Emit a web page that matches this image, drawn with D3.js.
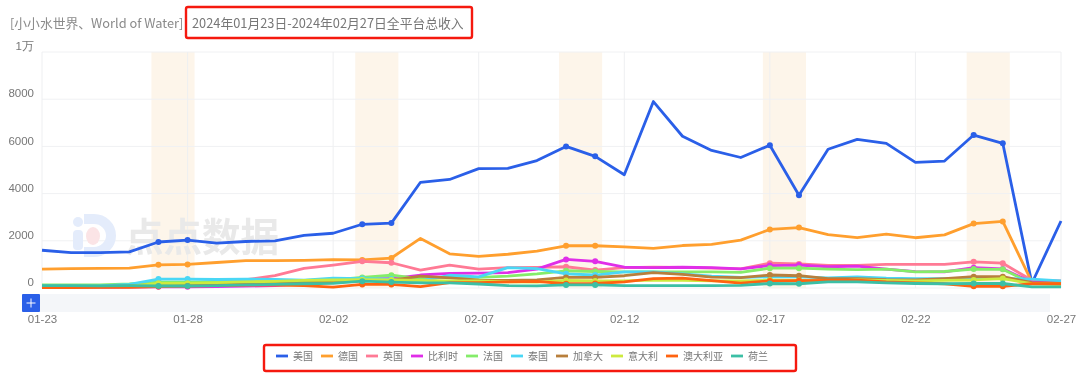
<!DOCTYPE html>
<html><head><meta charset="utf-8">
<script src="https://cdnjs.cloudflare.com/ajax/libs/d3/7.8.5/d3.min.js"></script>
<style>
html,body{margin:0;padding:0;background:#fff;overflow:hidden}
svg{display:block;font-family:"Noto Sans CJK SC","Noto Sans",sans-serif;filter:blur(0.4px)}
</style></head><body><svg id="c" width="1080" height="379"></svg>
<script>
const dates=["01-23","01-24","01-25","01-26","01-27","01-28","01-29","01-30","01-31","02-01","02-02","02-03","02-04","02-05","02-06","02-07","02-08","02-09","02-10","02-11","02-12","02-13","02-14","02-15","02-16","02-17","02-18","02-19","02-20","02-21","02-22","02-23","02-24","02-25","02-26","02-27"];
const xTicks=["01-23","01-28","02-02","02-07","02-12","02-17","02-22","02-27"];
const yTicks=[0,2000,4000,6000,8000,10000];
const weekends=[["01-27","01-28"],["02-03","02-04"],["02-10","02-11"],["02-17","02-18"],["02-24","02-25"]];
const names=["美国","德国","英国","比利时","法国","泰国","加拿大","意大利","澳大利亚","荷兰"];
const colors=["#2a5fe8","#ff9f2e","#ff7a95","#e02ee8","#85ec6a","#4ad7f5","#b87f3c","#cdea3e","#ff6310","#3cbfa5"];
const usa=[1600,1500,1500,1530,1950,2030,1900,1970,2000,2230,2320,2700,2750,4480,4600,5060,5070,5400,6000,5580,4800,7900,6430,5830,5530,6050,3930,5880,6300,6130,5320,5380,6480,6130,200,2840];
const germany=[800,820,830,840,980,1000,1080,1160,1160,1170,1200,1190,1270,2100,1450,1340,1430,1560,1790,1790,1740,1680,1800,1850,2030,2480,2560,2260,2130,2280,2130,2250,2730,2820,250,250];
const uk=[50,60,80,100,150,200,280,350,520,830,970,1130,1070,760,970,800,860,870,900,760,860,880,870,840,810,1050,1020,960,960,1000,1000,1000,1110,1050,330,300];
const belgium=[30,30,30,40,50,50,60,80,100,180,250,400,400,550,620,630,650,800,1210,1130,880,860,880,860,810,950,970,900,930,800,690,680,860,810,250,200];
const france=[130,130,130,170,250,250,270,280,290,320,340,450,540,400,460,450,500,600,730,700,680,680,680,680,660,840,840,800,780,800,680,700,800,790,200,150];
const thailand=[80,80,90,150,380,380,360,380,360,330,420,400,380,300,540,470,860,820,600,550,680,680,600,500,450,470,470,430,470,420,400,400,400,400,380,300];
const canada=[60,60,70,90,150,150,170,200,210,230,260,300,320,500,430,330,320,340,450,450,520,650,580,460,440,550,520,400,400,350,340,400,480,480,230,200];
const italy=[40,40,50,80,200,200,230,260,280,320,340,350,340,320,300,300,260,250,320,300,300,330,320,300,300,330,320,280,340,320,300,320,340,400,180,160];
const australia=[20,20,30,30,60,80,100,120,120,100,40,150,150,60,230,230,260,280,180,190,260,400,420,310,210,300,310,320,330,260,220,180,70,70,180,180];
const netherlands=[100,100,90,100,85,85,100,130,150,180,200,290,250,220,220,170,100,90,130,130,100,100,100,100,110,190,180,260,260,220,190,180,190,190,50,50];
const seriesValues=[usa,germany,uk,belgium,france,thailand,canada,italy,australia,netherlands];
const markedDays=weekends.flat();

const svg=d3.select("#c");
const x=d3.scalePoint().domain(dates).range([42,1061]);
const y=d3.scaleLinear().domain([0,10000]).range([288,52]);
const grey="#777";

// weekend bands
svg.append("g").selectAll("rect").data(weekends).join("rect")
 .attr("x",d=>x(d[0])-7).attr("width",d=>x(d[1])-x(d[0])+14)
 .attr("y",y(10000)).attr("height",y(0)-y(10000)).attr("fill","#fdf5ea");

// grid
svg.append("g").selectAll("line").data(yTicks).join("line")
 .attr("x1",x.range()[0]).attr("x2",x.range()[1]).attr("y1",d=>y(d)).attr("y2",d=>y(d)).attr("stroke","#f0f1f3");
svg.append("g").selectAll("line").data(xTicks).join("line")
 .attr("x1",d=>x(d)).attr("x2",d=>x(d)).attr("y1",y(10000)).attr("y2",y(0)).attr("stroke","#eeeff1");

// watermark
const wm=svg.append("g");
wm.append("path").attr("d","M84 252 H94 A17 16.5 0 0 0 94 219 H84").attr("fill","none").attr("stroke","#e4ecfb").attr("stroke-width",10);
wm.append("rect").attr("x",73).attr("y",230).attr("width",10).attr("height",20).attr("rx",4).attr("fill","#e4ecfb");
wm.append("circle").attr("cx",78).attr("cy",222).attr("r",5).attr("fill","#e4ecfb");
wm.append("ellipse").attr("cx",93).attr("cy",236).attr("rx",7).attr("ry",9).attr("fill","#fbe4e6");
wm.append("text").attr("x",125).attr("y",251).attr("font-size",38.5).attr("font-weight",700).attr("fill","#e9e9e9").text("点点数据");

// lines
const line=d3.line().x((d,i)=>x(dates[i])).y(d=>y(d));
const g=svg.append("g");
seriesValues.forEach((vals,k)=>{
  g.append("path").datum(vals).attr("d",line).attr("fill","none").attr("stroke",colors[k]).attr("stroke-width",2.8).attr("stroke-linejoin","round");
  g.append("g").selectAll("circle").data(markedDays).join("circle")
   .attr("cx",d=>x(d)).attr("cy",d=>y(vals[dates.indexOf(d)])).attr("r",3).attr("fill",colors[k]);
});

// axes
const ax=svg.append("g").attr("transform","translate(0,306)")
 .call(d3.axisBottom(x).tickValues(xTicks).tickSize(0).tickPadding(9));
ax.select(".domain").remove();
ax.selectAll("text").attr("font-size",11.5).attr("font-family",null).attr("fill",grey);
const ay=svg.append("g").attr("transform","translate(34,-6)")
 .call(d3.axisLeft(y).tickValues(yTicks).tickSize(0).tickPadding(0).tickFormat(d=>d===10000?"1万":d));
ay.select(".domain").remove();
ay.selectAll("text").attr("font-size",11.5).attr("font-family",null).attr("fill",grey);

// slider
svg.append("rect").attr("x",22).attr("y",294).attr("width",1028).attr("height",18).attr("fill","#f4f6f9");
svg.append("rect").attr("x",22).attr("y",294).attr("width",18).attr("height",18).attr("rx",1).attr("fill","#2a5fe8");
svg.append("path").attr("d","M26.5 303H35.5M31 298.5V307.5").attr("stroke","#fff").attr("stroke-width",1);

// title
svg.append("text").attr("x",10).attr("y",28).attr("font-size",12.8).attr("fill","#8a8a8a").text("[小小水世界、World of Water]");
svg.append("text").attr("x",192).attr("y",28).attr("font-size",12.8).attr("fill","#777").text("2024年01月23日-2024年02月27日全平台总收入");
svg.append("rect").attr("x",186).attr("y",7).attr("width",286).attr("height",31).attr("rx",2).attr("fill","none").attr("stroke","#f5190f").attr("stroke-width",2.4);

// legend
let lx=276;
const leg=svg.append("g");
names.forEach((n,k)=>{
  leg.append("line").attr("x1",lx).attr("x2",lx+12).attr("y1",356).attr("y2",356).attr("stroke",colors[k]).attr("stroke-width",2.8);
  leg.append("text").attr("x",lx+17).attr("y",360).attr("font-size",10).attr("fill",grey).text(n);
  lx+=25+n.length*10;
});
svg.append("rect").attr("x",264).attr("y",345).attr("width",532).attr("height",26).attr("rx",2).attr("fill","none").attr("stroke","#f5190f").attr("stroke-width",2.4);
</script></body></html>
